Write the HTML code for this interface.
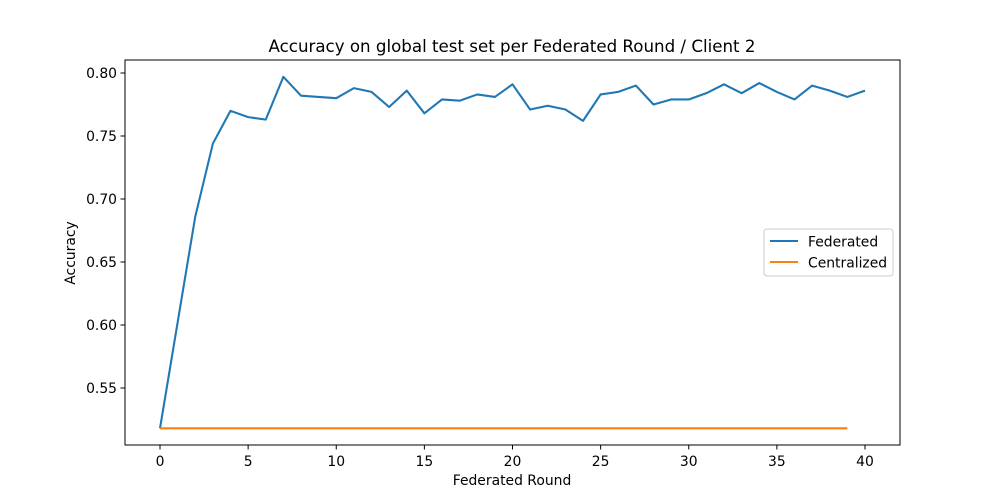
<!DOCTYPE html>
<html><head><meta charset="utf-8"><style>
body{margin:0;background:#fff;}
svg{display:block;font-family:"DejaVu Sans","Liberation Sans",sans-serif;}
</style></head><body>
<svg id="chart" width="1000" height="500">
<rect width="1000" height="500" fill="#fff"/>
<text x="512" y="52" text-anchor="middle" font-size="16.67">Accuracy on global test set per Federated Round / Client 2</text>
<g id="plot"></g>
<rect x="125" y="60" width="775" height="385" fill="none" stroke="#000" stroke-width="1"/>
<text x="512" y="485" text-anchor="middle" font-size="13.9">Federated Round</text>
<text transform="translate(75,253) rotate(-90)" text-anchor="middle" font-size="13.9">Accuracy</text>
<g>
<rect x="764" y="229" width="129" height="47" fill="#fff" stroke="#ccc" rx="3"/>
<line x1="770" y1="241" x2="798" y2="241" stroke="#1f77b4" stroke-width="2.08"/>
<text x="808" y="246.5" font-size="13.9">Federated</text>
<line x1="770" y1="262" x2="798" y2="262" stroke="#ff7f0e" stroke-width="2.08"/>
<text x="808" y="267.5" font-size="13.9">Centralized</text>
</g>
</svg>
<script>
const federated=[0.518,0.602,0.686,0.744,0.770,0.765,0.763,0.797,0.782,0.781,0.780,0.788,0.785,0.773,0.786,0.768,0.779,0.778,0.783,0.781,0.791,0.771,0.774,0.771,0.762,0.783,0.785,0.790,0.775,0.779,0.779,0.784,0.791,0.784,0.792,0.785,0.779,0.790,0.786,0.781,0.786];
const centralized=Array(40).fill(0.518);
const xTicks=[0,5,10,15,20,25,30,35,40];
const yTicks=[0.55,0.60,0.65,0.70,0.75,0.80];
const yTickLabels=["0.55","0.60","0.65","0.70","0.75","0.80"];
const NS="http://www.w3.org/2000/svg";
const g=document.getElementById('plot');
function xS(v){return 160+v*17.625;}
function yS(v){return 73+(0.80-v)*1260;}
function mk(tag,attrs){const e=document.createElementNS(NS,tag);for(const k in attrs)e.setAttribute(k,attrs[k]);g.appendChild(e);return e;}
xTicks.forEach(t=>{
  const l=mk('line',{x1:xS(t),x2:xS(t),y1:445,y2:449.5,stroke:'#000'});
  
  
  const tx=mk('text',{x:xS(t),y:466,'text-anchor':'middle','font-size':13.9});
  tx.textContent=t;
  
  
});
yTicks.forEach((t,i)=>{
  const l=mk('line',{x1:120.5,x2:125,y1:yS(t),y2:yS(t),stroke:'#000'});
  
  
  const tx=mk('text',{x:117,y:yS(t)+5,'text-anchor':'end','font-size':13.9});
  tx.textContent=yTickLabels[i];
  
  
});
const p1=mk('polyline',{points:federated.map((v,i)=>xS(i)+','+yS(v)).join(' '),fill:'none',stroke:'#1f77b4','stroke-width':2.08,'stroke-linejoin':'round'});


const p2=mk('polyline',{points:centralized.map((v,i)=>xS(i)+','+yS(v)).join(' '),fill:'none',stroke:'#ff7f0e','stroke-width':2.08});


</script>
</body></html>
